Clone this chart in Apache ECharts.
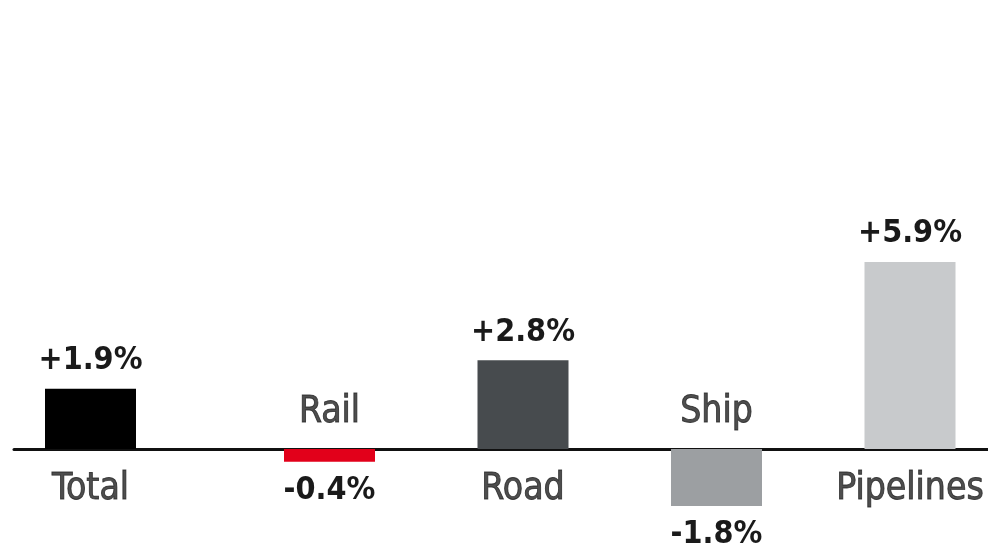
<!DOCTYPE html>
<html>
<head>
<meta charset="utf-8">
<script src="https://cdn.jsdelivr.net/npm/echarts@6/dist/echarts.min.js"></script>
<style>
html,body{margin:0;padding:0;background:#fff;}
#chart{width:988px;height:549px;}
</style>
</head>
<body>
<div id="chart"></div>
<script>
// Data
const totalCategory = ['Total'];
const totalValues = [1.9];
const modeCategories = ['Rail', 'Road', 'Ship', 'Pipelines'];
const modeValues = [-0.4, 2.8, -1.8, 5.9];
const totalColor = ['#000000'];
const modeColors = ['#e2001a', '#474b4e', '#9c9fa2', '#c8cacc'];

const FONT = '"DejaVu Sans Condensed", "Liberation Sans Narrow", sans-serif';
const fmt = v => (v > 0 ? '+' : '') + v.toFixed(1) + '%';

function barData(values, colors) {
  return values.map((v, i) => ({
    value: v,
    itemStyle: { color: colors[i] },
    label: { position: v >= 0 ? 'top' : 'bottom', distance: v >= 0 ? 12 : 13 }
  }));
}
function nameData(values, names) {
  return values.map((v, i) => ({
    value: 0,
    name: names[i],
    label: { position: v >= 0 ? 'bottom' : 'top', distance: v >= 0 ? 22 : 18 }
  }));
}

const chart = echarts.init(document.getElementById('chart'), null, { renderer: 'canvas' });

const gridTop = 258.8, gridBottom = 36.6;
const yCommon = { type: 'value', min: -2, max: 6, show: false, splitLine: { show: false } };
const xCommon = {
  type: 'category',
  axisLine: { show: true, onZero: true, lineStyle: { color: '#111', width: 3 } },
  axisTick: { show: false },
  axisLabel: { show: false },
  splitLine: { show: false }
};

const valueLabel = {
  show: true,
  formatter: p => fmt(p.value),
  fontFamily: FONT,
  fontWeight: 'bold',
  fontSize: 32,
  color: '#1a1a1a'
};
const nameLabel = {
  show: true,
  formatter: p => p.name,
  fontFamily: FONT,
  fontSize: 37,
  color: '#222222',
  textBorderColor: '#222222',
  textBorderWidth: 0.9
};

const modeAxis = [''].concat(modeCategories);
const modeBars = [{ value: '-' }].concat(barData(modeValues, modeColors));
const modeNames = [{ value: '-' }].concat(nameData(modeValues, modeCategories));

chart.setOption({
  animation: false,
  backgroundColor: '#ffffff',
  grid: [
    { left: 14, width: 153, top: gridTop, bottom: gridBottom, outerBoundsMode: 'none', containLabel: false },
    { left: 39.25, width: 967.5, top: gridTop, bottom: gridBottom, outerBoundsMode: 'none', containLabel: false }
  ],
  xAxis: [
    Object.assign({}, xCommon, { gridIndex: 0, data: totalCategory }),
    Object.assign({}, xCommon, { gridIndex: 1, data: modeAxis })
  ],
  yAxis: [
    Object.assign({}, yCommon, { gridIndex: 0 }),
    Object.assign({}, yCommon, { gridIndex: 1 })
  ],
  series: [
    { type: 'bar', xAxisIndex: 0, yAxisIndex: 0, barWidth: 91, data: barData(totalValues, totalColor), label: valueLabel, z: 2 },
    { type: 'bar', xAxisIndex: 1, yAxisIndex: 1, barWidth: 91, data: modeBars, label: valueLabel, z: 2 },
    { type: 'scatter', xAxisIndex: 0, yAxisIndex: 0, symbolSize: 0, data: nameData(totalValues, totalCategory), label: nameLabel, silent: true },
    { type: 'scatter', xAxisIndex: 1, yAxisIndex: 1, symbolSize: 0, data: modeNames, label: nameLabel, silent: true }
  ]
});
</script>
</body>
</html>
